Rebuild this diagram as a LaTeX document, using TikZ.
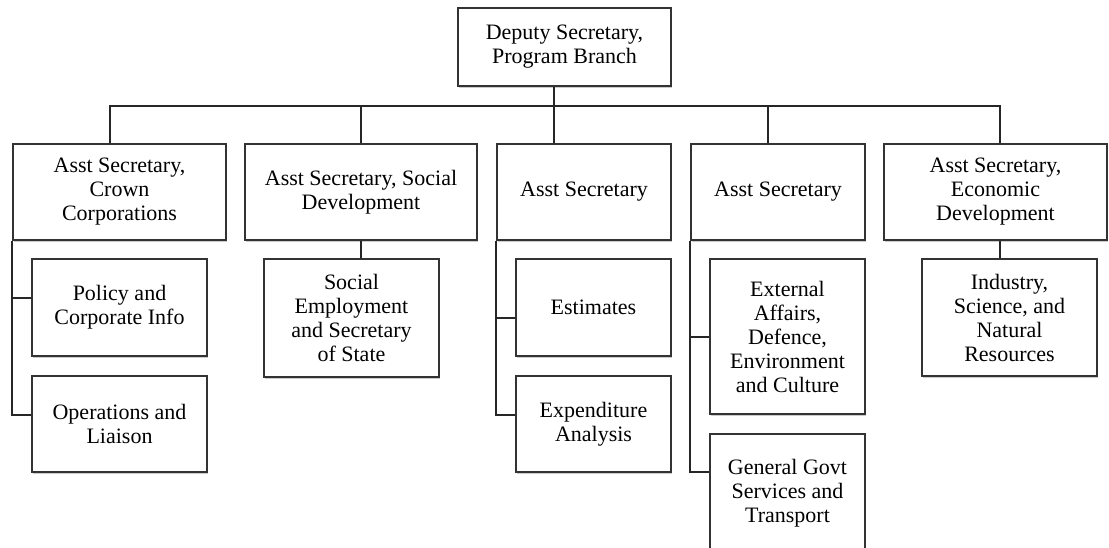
\documentclass[tikz,border=0pt]{standalone}
\usepackage{fontspec}
\setmainfont{Liberation Serif}
\usetikzlibrary{shadows,calc}
\tikzset{
  orgbox/.style={draw=black!80, line width=2pt, fill=white, align=center,
    inner sep=0pt, font=\fontsize{22}{24}\selectfont,
    drop shadow={shadow xshift=1.2pt, shadow yshift=-1.8pt, fill=black!40, opacity=0.5}},
  link/.style={draw=black!85, line width=2pt},
}
\begin{document}
\begin{tikzpicture}[x=1pt,y=-1pt]
\clip (0,0) rectangle (1109,548);
\fill[white] (0,0) rectangle (1109,548);
% top
\node[orgbox, minimum width=213pt, minimum height=78pt] (top) at (564.5,47) {Deputy Secretary,\\Program Branch};
% level 2
\node[orgbox, minimum width=213pt, minimum height=96pt] (b1) at (119.5,192) {Asst Secretary,\\Crown\\Corporations};
\node[orgbox, minimum width=232pt, minimum height=96pt] (b2) at (361,192) {Asst Secretary, Social\\Development};
\node[orgbox, minimum width=174pt, minimum height=96pt] (b3) at (584,192) {Asst Secretary};
\node[orgbox, minimum width=174pt, minimum height=96pt] (b4) at (778,192) {Asst Secretary};
\node[orgbox, minimum width=223pt, minimum height=96pt] (b5) at (995.5,192) {Asst Secretary,\\Economic\\Development};
% level 3
\node[orgbox, minimum width=175pt, minimum height=97pt] (pol) at (119.5,307.5) {Policy and\\Corporate Info};
\node[orgbox, minimum width=175pt, minimum height=96pt] (ops) at (119.5,424) {Operations and\\Liaison};
\node[orgbox, minimum width=175pt, minimum height=118pt] (soc) at (351.5,318) {Social\\Employment\\and Secretary\\of State};
\node[orgbox, minimum width=155pt, minimum height=97pt] (est) at (593.5,307.5) {Estimates};
\node[orgbox, minimum width=155pt, minimum height=96pt] (exp) at (593.5,424) {Expenditure\\Analysis};
\node[orgbox, minimum width=155pt, minimum height=155pt] (ext) at (787.5,336.5) {External\\Affairs,\\Defence,\\Environment\\and Culture};
\node[orgbox, minimum width=155pt, minimum height=118pt] (gen) at (787.5,493) {General Govt\\Services and\\Transport};
\node[orgbox, minimum width=175pt, minimum height=117pt] (ind) at (1009.5,317.5) {Industry,\\Science, and\\Natural\\Resources};
% bus
\coordinate (j1) at (110,106);
\coordinate (j2) at (361,106);
\coordinate (j3) at (554,106);
\coordinate (j4) at (768,106);
\coordinate (j5) at (1000,106);
\draw[link] (j1 |- b1.north) -- (j1) -- (j5) -- (j5 |- b5.north);
\draw[link] (j3 |- top.south) -- (j3 |- b3.north);
\draw[link] (j2) -- (j2 |- b2.north);
\draw[link] (j4) -- (j4 |- b4.north);
% level 3 links
\draw[link] (b1.south west) |- ($(ops.west)+(0,-9)$);
\draw[link] ($(b1.south west |- pol.west)+(0,-9.5)$) -- ($(pol.west)+(0,-9.5)$);
\draw[link] (j2 |- b2.south) -- (j2 |- soc.north);
\draw[link] (b3.south west) |- ($(exp.west)+(0,-9)$);
\draw[link] ($(b3.south west |- est.west)+(0,10.5)$) -- ($(est.west)+(0,10.5)$);
\draw[link] (b4.south west) |- ($(gen.west)+(0,-21)$);
\draw[link] (b4.south west |- ext.west) -- (ext.west);
\draw[link] (j5 |- b5.south) -- (j5 |- ind.north);
\end{tikzpicture}
\end{document}
